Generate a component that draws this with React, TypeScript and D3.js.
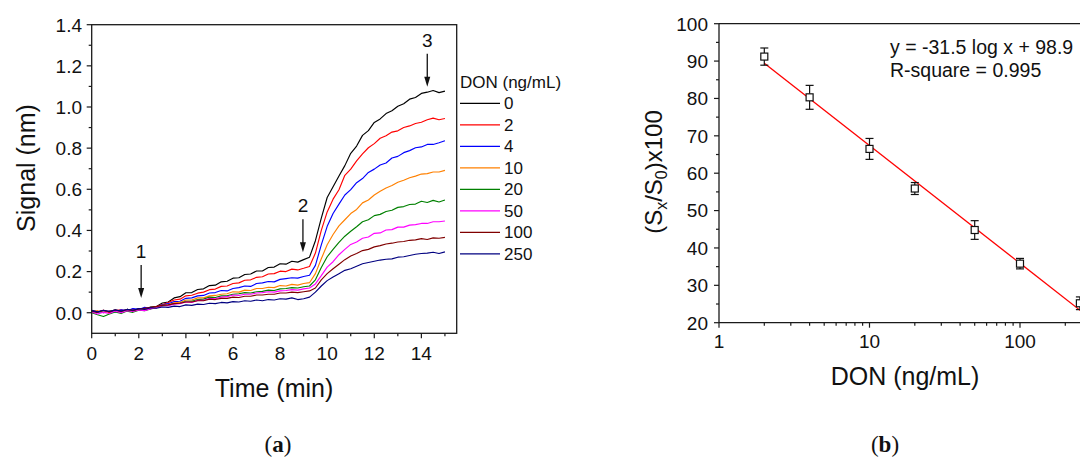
import React from "react";
import * as d3 from "d3";

// ---------- Panel (a) data ----------
const timeStart = 0;
const timeStep = 0.25; // minutes between samples
const concLabels = ["0", "2", "4", "10", "20", "50", "100", "250"];
const seriesColors = ["#000000", "#ff0000", "#0000ff", "#ff8000", "#008000", "#ff00ff", "#800000", "#000080"];

const sig0 = [0.008, 0.002, 0.01, 0.004, 0.012, 0.006, 0.016, 0.01, 0.02, 0.015, 0.028,
  0.03, 0.047, 0.052, 0.072, 0.078, 0.097, 0.098, 0.113, 0.116, 0.132, 0.134, 0.15, 0.153, 0.168, 0.17, 0.186, 0.188, 0.203, 0.203, 0.22, 0.222, 0.238, 0.236, 0.25, 0.246, 0.258,
  0.27, 0.35, 0.46, 0.56, 0.612, 0.665, 0.715, 0.775, 0.81, 0.862, 0.885, 0.925, 0.942, 0.968, 0.982, 1.004, 1.016, 1.038, 1.046, 1.066, 1.072, 1.08, 1.07, 1.077];
const sig2 = [0.01, 0.004, 0.012, 0.0, 0.01, 0.014, 0.008, 0.018, 0.012, 0.022, 0.02,
  0.03, 0.04, 0.05, 0.062, 0.066, 0.082, 0.085, 0.095, 0.1, 0.112, 0.115, 0.128, 0.13, 0.142, 0.145, 0.158, 0.16, 0.172, 0.175, 0.188, 0.19, 0.202, 0.2, 0.212, 0.208, 0.216,
  0.225, 0.29, 0.4, 0.49, 0.552, 0.598, 0.668, 0.698, 0.738, 0.772, 0.802, 0.822, 0.848, 0.86, 0.878, 0.884, 0.9, 0.908, 0.92, 0.926, 0.938, 0.946, 0.938, 0.944];
const sig4 = [0.012, 0.006, 0.0, 0.01, 0.004, 0.014, 0.01, 0.02, 0.016, 0.026, 0.02,
  0.028, 0.038, 0.044, 0.054, 0.056, 0.07, 0.072, 0.082, 0.084, 0.096, 0.098, 0.108, 0.106, 0.118, 0.122, 0.13, 0.128, 0.142, 0.145, 0.152, 0.15, 0.162, 0.166, 0.17, 0.168, 0.176,
  0.182, 0.23, 0.33, 0.42, 0.482, 0.528, 0.572, 0.598, 0.632, 0.652, 0.682, 0.698, 0.718, 0.728, 0.752, 0.76, 0.778, 0.788, 0.802, 0.806, 0.818, 0.818, 0.826, 0.836];
const sig10 = [0.005, 0.01, 0.0, 0.008, 0.012, 0.004, 0.015, 0.01, 0.018, 0.014, 0.022,
  0.026, 0.036, 0.038, 0.048, 0.05, 0.062, 0.062, 0.072, 0.072, 0.082, 0.084, 0.09, 0.092, 0.102, 0.1, 0.11, 0.108, 0.118, 0.118, 0.124, 0.122, 0.132, 0.13, 0.138, 0.134, 0.142,
  0.146, 0.19, 0.262, 0.33, 0.38, 0.422, 0.452, 0.482, 0.502, 0.534, 0.548, 0.572, 0.59, 0.606, 0.618, 0.634, 0.644, 0.656, 0.664, 0.674, 0.676, 0.684, 0.684, 0.692];
const sig20 = [0.0, -0.01, -0.018, -0.006, 0.004, -0.004, 0.008, 0.002, 0.012, 0.01, 0.018,
  0.024, 0.034, 0.036, 0.044, 0.046, 0.056, 0.056, 0.064, 0.066, 0.076, 0.074, 0.082, 0.082, 0.09, 0.092, 0.098, 0.096, 0.102, 0.104, 0.11, 0.108, 0.116, 0.118, 0.122, 0.12, 0.126,
  0.13, 0.16, 0.22, 0.272, 0.308, 0.342, 0.372, 0.396, 0.418, 0.442, 0.452, 0.472, 0.478, 0.492, 0.498, 0.512, 0.516, 0.526, 0.528, 0.542, 0.536, 0.546, 0.538, 0.548];
const sig50 = [0.004, -0.006, 0.002, -0.004, 0.008, 0.0, 0.01, 0.006, 0.014, 0.01, 0.02,
  0.024, 0.034, 0.034, 0.042, 0.044, 0.052, 0.05, 0.06, 0.06, 0.07, 0.068, 0.076, 0.078, 0.086, 0.084, 0.09, 0.09, 0.096, 0.098, 0.102, 0.1, 0.106, 0.108, 0.112, 0.11, 0.116,
  0.12, 0.14, 0.18, 0.222, 0.248, 0.282, 0.308, 0.332, 0.344, 0.362, 0.368, 0.386, 0.388, 0.402, 0.404, 0.416, 0.416, 0.426, 0.428, 0.434, 0.434, 0.442, 0.442, 0.446];
const sig100 = [0.008, 0.002, 0.012, 0.004, 0.014, 0.006, 0.016, 0.01, 0.018, 0.022, 0.026,
  0.03, 0.036, 0.038, 0.044, 0.046, 0.052, 0.052, 0.058, 0.058, 0.066, 0.064, 0.07, 0.07, 0.076, 0.074, 0.08, 0.08, 0.086, 0.086, 0.09, 0.09, 0.096, 0.096, 0.1, 0.098, 0.102,
  0.106, 0.12, 0.16, 0.19, 0.214, 0.236, 0.258, 0.276, 0.288, 0.302, 0.308, 0.32, 0.326, 0.334, 0.338, 0.344, 0.346, 0.352, 0.354, 0.36, 0.356, 0.364, 0.362, 0.366];
const sig250 = [0.01, 0.004, 0.012, 0.006, 0.014, 0.008, 0.016, 0.012, 0.02, 0.016, 0.024,
  0.022, 0.028, 0.026, 0.032, 0.03, 0.038, 0.036, 0.042, 0.04, 0.046, 0.044, 0.05, 0.048, 0.054, 0.052, 0.058, 0.056, 0.062, 0.058, 0.064, 0.062, 0.068, 0.066, 0.072, 0.064, 0.068,
  0.076, 0.1, 0.13, 0.156, 0.174, 0.19, 0.206, 0.214, 0.226, 0.238, 0.244, 0.25, 0.256, 0.26, 0.262, 0.27, 0.272, 0.278, 0.284, 0.288, 0.29, 0.294, 0.288, 0.296];
const signals = [sig0, sig2, sig4, sig10, sig20, sig50, sig100, sig250];

const xTicksA = [0, 2, 4, 6, 8, 10, 12, 14];
const xMinorA = [1, 3, 5, 7, 9, 11, 13, 15];
const yTicksA = [0, 0.2, 0.4, 0.6, 0.8, 1.0, 1.2, 1.4];
const yMinorA = [0.1, 0.3, 0.5, 0.7, 0.9, 1.1, 1.3];

const arrowLabels = ["1", "2", "3"];
const arrowTimes = [2.1, 8.97, 14.25];
const arrowTipValues = [0.071, 0.294, 1.098];

// ---------- Panel (b) data ----------
const donConc = [2, 4, 10, 20, 50, 100, 250];
const ratioMean = [91.2, 80.3, 66.5, 55.9, 44.8, 35.8, 25.2];
const ratioErr = [2.3, 3.2, 2.8, 1.6, 2.5, 1.4, 1.7];
const fitSlope = -31.5;
const fitIntercept = 98.9;
const xTicksB = [1, 10, 100];
const xMinorB = [2, 3, 4, 5, 6, 7, 8, 9, 20, 30, 40, 50, 60, 70, 80, 90, 200, 300, 400, 500];
const yTicksB = [20, 30, 40, 50, 60, 70, 80, 90, 100];
const yMinorB = [25, 35, 45, 55, 65, 75, 85, 95];

const FONT = "'Liberation Sans', Arial, Helvetica, sans-serif";
const AX = "#1a1a1a";

export default function App() {
  // panel a scales
  const xA = d3.scaleLinear().domain([0, 15.5]).range([91.7, 456.7]);
  const yA = d3.scaleLinear().domain([-0.1, 1.4]).range([333.3, 24.7]);
  const lineA = d3
    .line<number>()
    .x((_, i) => xA(timeStart + i * timeStep))
    .y((v) => yA(v));

  // panel b scales
  const xB = d3.scaleLog().domain([1, 1000]).range([719, 719 + 3 * 150.5]);
  const yB = d3.scaleLinear().domain([20, 100]).range([322.7, 23.7]);
  const fitX = [2, 1000];
  const lineB = d3
    .line<number>()
    .x((c) => xB(c))
    .y((c) => yB(fitSlope * Math.log10(c) + fitIntercept));

  const legendX = 460;
  const legendY0 = 103.3;
  const legendDy = 21.5;

  return (
    <div style={{ position: "absolute", left: 0, top: 0 }}>
      <svg width={1080} height={457} style={{ display: "block", background: "#fff" }} fontFamily={FONT}>
        {/* ===== Panel (a) ===== */}
        <g>
          {signals.map((s, i) => (
            <path key={i} d={lineA(s) || ""} fill="none" stroke={seriesColors[i]} strokeWidth={1.15} strokeLinejoin="round" />
          ))}
          <rect x={xA(0)} y={yA(1.4)} width={xA(15.5) - xA(0)} height={yA(-0.1) - yA(1.4)} fill="none" stroke={AX} strokeWidth={1.3} />
          {xTicksA.map((t) => (
            <g key={"xa" + t}>
              <line x1={xA(t)} x2={xA(t)} y1={yA(-0.1)} y2={yA(-0.1) + 5} stroke={AX} strokeWidth={1.2} />
              <text x={xA(t)} y={360} textAnchor="middle" fontSize={19} fill="#111">{t}</text>
            </g>
          ))}
          {xMinorA.map((t) => (
            <line key={"xam" + t} x1={xA(t)} x2={xA(t)} y1={yA(-0.1)} y2={yA(-0.1) + 3} stroke={AX} strokeWidth={1.2} />
          ))}
          {yTicksA.map((v) => (
            <g key={"ya" + v}>
              <line x1={xA(0) - 5} x2={xA(0)} y1={yA(v)} y2={yA(v)} stroke={AX} strokeWidth={1.2} />
              <text x={82} y={yA(v)} dy="0.36em" textAnchor="end" fontSize={19} fill="#111">{d3.format(".1f")(v)}</text>
            </g>
          ))}
          {yMinorA.map((v) => (
            <line key={"yam" + v} x1={xA(0) - 3} x2={xA(0)} y1={yA(v)} y2={yA(v)} stroke={AX} strokeWidth={1.2} />
          ))}
          <text transform="translate(35,168) rotate(-90)" textAnchor="middle" fontSize={25} fill="#111">Signal (nm)</text>
          <text x={274} y={397} textAnchor="middle" fontSize={25} fill="#111">Time (min)</text>

          {/* arrows */}
          {arrowLabels.map((lab, i) => {
            const x = xA(arrowTimes[i]);
            const tip = yA(arrowTipValues[i]);
            return (
              <g key={"arr" + i}>
                <text x={x} y={tip - 40} textAnchor="middle" fontSize={19} fill="#111">{lab}</text>
                <line x1={x} x2={x} y1={tip - 33} y2={tip - 8} stroke="#111" strokeWidth={1.3} />
                <path d={`M${x - 3},${tip - 10} L${x + 3},${tip - 10} L${x},${tip} Z`} fill="#111" />
              </g>
            );
          })}

          {/* legend */}
          <text x={legendX} y={88} fontSize={17} fill="#111">DON (ng/mL)</text>
          {concLabels.map((c, i) => (
            <g key={"lg" + c}>
              <line x1={legendX} x2={legendX + 40} y1={legendY0 + i * legendDy} y2={legendY0 + i * legendDy} stroke={seriesColors[i]} strokeWidth={1.3} />
              <text x={legendX + 44} y={legendY0 + i * legendDy} dy="0.36em" fontSize={17} fill="#111">{c}</text>
            </g>
          ))}

          <text x={278} y={452} textAnchor="middle" fontSize={23} fill="#111" fontFamily="'Liberation Serif', 'Times New Roman', serif">
            (<tspan fontWeight="bold">a</tspan>)
          </text>
        </g>

        {/* ===== Panel (b) ===== */}
        <g>
          <path d={lineB(fitX) || ""} fill="none" stroke="#ff0000" strokeWidth={1.3} />
          {donConc.map((c, i) => {
            const cx = xB(c);
            const cy = yB(ratioMean[i]);
            const yt = yB(ratioMean[i] + ratioErr[i]);
            const yb = yB(ratioMean[i] - ratioErr[i]);
            return (
              <g key={"pt" + c}>
                <line x1={cx} x2={cx} y1={yt} y2={cy - 3.5} stroke="#111" strokeWidth={1.2} />
                <line x1={cx} x2={cx} y1={cy + 3.5} y2={yb} stroke="#111" strokeWidth={1.2} />
                <line x1={cx - 4} x2={cx + 4} y1={yt} y2={yt} stroke="#111" strokeWidth={1.2} />
                <line x1={cx - 4} x2={cx + 4} y1={yb} y2={yb} stroke="#111" strokeWidth={1.2} />
                <rect x={cx - 3.5} y={cy - 3.5} width={7} height={7} fill="#fff" stroke="#111" strokeWidth={1.2} />
              </g>
            );
          })}
          <line x1={xB(1)} x2={1080} y1={yB(100)} y2={yB(100)} stroke={AX} strokeWidth={1.3} />
          <line x1={xB(1)} x2={1080} y1={yB(20)} y2={yB(20)} stroke={AX} strokeWidth={1.3} />
          <line x1={xB(1)} x2={xB(1)} y1={yB(100)} y2={yB(20)} stroke={AX} strokeWidth={1.3} />
          {xTicksB.map((t) => (
            <g key={"xb" + t}>
              <line x1={xB(t)} x2={xB(t)} y1={yB(20)} y2={yB(20) + 5} stroke={AX} strokeWidth={1.2} />
              <text x={xB(t)} y={348} textAnchor="middle" fontSize={19} fill="#111">{t}</text>
            </g>
          ))}
          {xMinorB.map((t) => (
            <line key={"xbm" + t} x1={xB(t)} x2={xB(t)} y1={yB(20)} y2={yB(20) + 3} stroke={AX} strokeWidth={1.2} />
          ))}
          {yTicksB.map((v) => (
            <g key={"yb" + v}>
              <line x1={xB(1) - 5} x2={xB(1)} y1={yB(v)} y2={yB(v)} stroke={AX} strokeWidth={1.2} />
              <text x={708} y={yB(v)} dy="0.36em" textAnchor="end" fontSize={19} fill="#111">{v}</text>
            </g>
          ))}
          {yMinorB.map((v) => (
            <line key={"ybm" + v} x1={xB(1) - 3} x2={xB(1)} y1={yB(v)} y2={yB(v)} stroke={AX} strokeWidth={1.2} />
          ))}
          <text transform="translate(662,172) rotate(-90)" textAnchor="middle" fontSize={24} fill="#111">
            (S<tspan fontSize={16} dy={5}>x</tspan><tspan dy={-5}>/S</tspan><tspan fontSize={16} dy={5}>0</tspan><tspan dy={-5}>)x100</tspan>
          </text>
          <text x={905} y={385} textAnchor="middle" fontSize={25} fill="#111">DON (ng/mL)</text>
          <text x={890} y={54} fontSize={19.5} fill="#111">y = -31.5 log x + 98.9</text>
          <text x={890} y={77} fontSize={19.5} fill="#111">R-square = 0.995</text>
          <text x={885} y={452} textAnchor="middle" fontSize={23} fill="#111" fontFamily="'Liberation Serif', 'Times New Roman', serif">
            (<tspan fontWeight="bold">b</tspan>)
          </text>
        </g>
      </svg>
    </div>
  );
}
